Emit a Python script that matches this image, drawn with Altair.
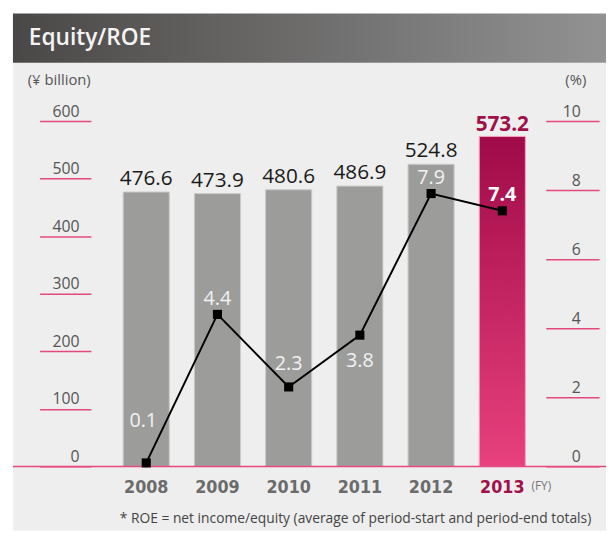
import altair as alt
import pandas as pd

# ---- data ----
years = ["2008", "2009", "2010", "2011", "2012", "2013"]
equity = [476.6, 473.9, 480.6, 486.9, 524.8, 573.2]
roe = [0.1, 4.4, 2.3, 3.8, 7.9, 7.4]
equity_ticks = [0, 100, 200, 300, 400, 500, 600]
roe_ticks = [0, 2, 4, 6, 8, 10]
highlight = "2013"
title_text = "Equity/ROE"
left_unit = "(¥ billion)"
right_unit = "(%)"
fy_text = "(FY)"
footnote = "* ROE = net income/equity (average of period-start and period-end totals)"

# ---- styles ----
PINK = "#e4487f"
MAGENTA = "#a0104a"
GRAY_BAR = "#9c9d9b"
FONT = "Open Sans"
NARROW = "Liberation Sans Narrow, DejaVu Sans Condensed, sans-serif"
# (dx, dy) of each ROE label relative to its marker
ROE_LABEL_OFFSET = {"2008": (-3, -36), "2009": (0, -10), "2010": (0, -17),
                    "2011": (0, 32), "2012": (0, -10), "2013": (0, -10)}

df = pd.DataFrame({"year": years, "equity": equity, "roe": roe})
df["eq_label"] = [f"{v:.1f}" for v in equity]
df["roe_label"] = [f"{v:.1f}" for v in roe]

base = alt.Chart(df)

x_axis = alt.Axis(orient="bottom", domain=False, ticks=False, grid=False,
                  labelAngle=0, labelPadding=26, labelBaseline="alphabetic",
                  labelFont=NARROW, labelFontSize=18, labelFontWeight="bold",
                  labelColor=alt.ExprRef(expr=f"datum.value === '{highlight}' ? '{MAGENTA}' : '#6b6b6b'"),
                  title=fy_text, titleX=426, titleY=23, titleAlign="left",
                  titleBaseline="alphabetic", titleFont=FONT, titleFontSize=12,
                  titleFontWeight="normal", titleColor="#777777", zindex=1)
X = alt.X("year:N", scale=alt.Scale(domain=years, paddingInner=0.353, paddingOuter=0.1765),
          axis=x_axis)

eq_axis = alt.Axis(orient="left", values=equity_ticks, offset=20, tickSize=52,
                   tickColor=PINK, tickWidth=1.5, domain=False, grid=False,
                   labelPadding=-40, labelAlign="right", labelBaseline="alphabetic",
                   labelOffset=-5, labelFont=FONT, labelFontSize=16, labelColor="#555555",
                   title=None, zindex=1)
roe_axis = alt.Axis(orient="right", values=roe_ticks, offset=8, tickSize=54,
                    tickColor=PINK, tickWidth=1.5, domain=False, grid=False,
                    labelPadding=-19, labelAlign="right", labelBaseline="alphabetic",
                    labelOffset=-5, labelFont=FONT, labelFontSize=16, labelColor="#555555",
                    title=None, zindex=1)
Y_EQ = alt.Y("equity:Q", scale=alt.Scale(domain=[0, 600], nice=False), axis=eq_axis)
Y_ROE = alt.Y("roe:Q", scale=alt.Scale(domain=[0, 10], nice=False), axis=roe_axis)

# ---- decoration ----
panel = alt.Chart(pd.DataFrame({"k": [0]})).mark_rect(color="#eeeeee").encode(
    x=alt.value(-99), x2=alt.value(502), y=alt.value(-59), y2=alt.value(415))
band = alt.Chart(pd.DataFrame({"k": [0]})).mark_rect(
    color=alt.Gradient(gradient="linear", x1=0, x2=1, y1=0, y2=0,
                       stops=[alt.GradientStop(offset=0, color="#4a4847"),
                              alt.GradientStop(offset=1, color="#929292")])
).encode(x=alt.value(-99), x2=alt.value(502), y=alt.value(-109), y2=alt.value(-59))

def label(txt, x, y, align="left", size=15, color="#555555", weight="normal", font=FONT):
    return alt.Chart(pd.DataFrame({"t": [txt]})).mark_text(
        align=align, baseline="alphabetic", fontSize=size, color=color,
        fontWeight=weight, font=font).encode(text="t:N", x=alt.value(x), y=alt.value(y))

title = label(title_text, -83, -77, size=23, color="#f4f4f4", weight=600)
lunit = label(left_unit, -84, -36, size=15)
runit = label(right_unit, 482, -36, align="right", size=15)
foot = label(footnote, 487, 407, align="right", size=14, color="#444444")

# ---- equity group ----
is_hl = f"datum.year === '{highlight}'"
gray_bars = base.transform_filter(f"!({is_hl})").mark_bar(
    color=GRAY_BAR, stroke="#c9c9c9", strokeWidth=1).encode(x=X, y=Y_EQ)
hl_bar = base.transform_filter(is_hl).mark_bar(
    color=alt.Gradient(gradient="linear", x1=0, x2=0, y1=0, y2=1,
                       stops=[alt.GradientStop(offset=0, color="#a00a48"),
                              alt.GradientStop(offset=1, color="#e8417d")]),
    stroke="#f5a0c0", strokeWidth=1).encode(x=X, y=Y_EQ)
eq_text = base.transform_filter(f"!({is_hl})").mark_text(
    dy=-7, baseline="alphabetic", fontSize=21, font=FONT, color="#1a1a1a"
).encode(x=X, y=Y_EQ, text="eq_label:N")
eq_text_hl = base.transform_filter(is_hl).mark_text(
    dy=-6, baseline="alphabetic", fontSize=21, font=FONT, fontWeight="bold", color=MAGENTA
).encode(x=X, y=Y_EQ, text="eq_label:N")
zero_rule = alt.Chart(pd.DataFrame({"k": [0]})).mark_rule(color=PINK, strokeWidth=1.5).encode(
    y=alt.Y(datum=0, type="quantitative", scale=alt.Scale(domain=[0, 600], nice=False), axis=eq_axis),
    x=alt.value(-99), x2=alt.value(502))
eq_group = alt.layer(gray_bars, hl_bar, zero_rule, eq_text, eq_text_hl)

# ---- ROE group ----
line = base.mark_line(color="black", strokeWidth=2).encode(x=X, y=Y_ROE)
pts = base.mark_point(shape="square", filled=True, size=85, color="black", opacity=1).encode(x=X, y=Y_ROE)
roe_texts = []
for yr in years:
    dx, dy = ROE_LABEL_OFFSET[yr]
    hl = yr == highlight
    roe_texts.append(base.transform_filter(f"datum.year === '{yr}'").mark_text(
        dx=dx, dy=dy, baseline="alphabetic", fontSize=20, font=FONT,
        fontWeight="bold" if hl else "normal", color="#ffffff" if hl else "#f2f2f2"
    ).encode(x=X, y=Y_ROE, text="roe_label:N"))
roe_group = alt.layer(line, pts, *roe_texts)

chart = alt.layer(panel, band, eq_group, roe_group, title, lunit, runit, foot).resolve_scale(
    y="independent"
).properties(
    width=433, height=350, autosize="none",
    padding={"left": 104, "top": 111, "right": 69, "bottom": 65},
    background="white"
).configure_view(stroke=None)

chart.save("out.html", embed_options={"renderer": "svg", "actions": False})
